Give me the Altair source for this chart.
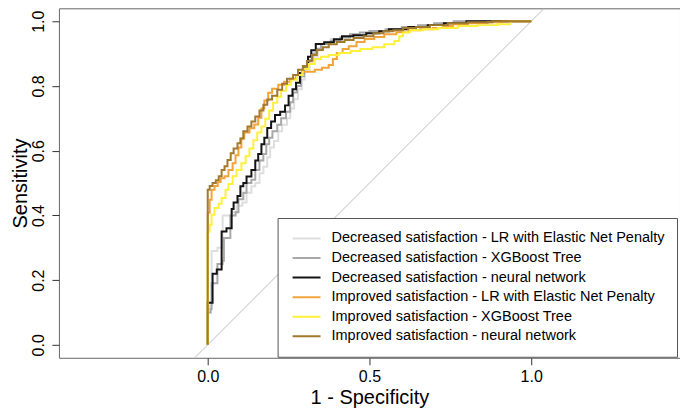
import altair as alt
import pandas as pd

series_names = [
    "Decreased satisfaction - LR with Elastic Net Penalty",
    "Decreased satisfaction - XGBoost Tree",
    "Decreased satisfaction - neural network",
    "Improved satisfaction - LR with Elastic Net Penalty",
    "Improved satisfaction - XGBoost Tree",
    "Improved satisfaction - neural network",
]
series_colors = ["#DEDEDE", "#A8A8A8", "#141414", "#F2A33A", "#FFF03C", "#A27A2E"]

# Decreased satisfaction - LR with Elastic Net Penalty
dec_lr_fpr = [0, 0, .006, .012, .03, .046, .074, .089, .107, .12,
              .135, .147, .16, .172, .184, .193, .205, .218, .23, .245,
              .255, .267, .279, .291, .30, .315, .328, .34, .355, .38,
              .41, .44, .48, .52, .56, .61, .66, .71, .77, 1]
dec_lr_tpr = [0, .11, .12, .29, .30, .40, .41, .43, .44, .47,
              .49, .50, .53, .55, .58, .61, .63, .66, .68, .70,
              .73, .76, .79, .82, .85, .87, .89, .91, .93, .945,
              .95, .955, .962, .97, .976, .982, .988, .994, 1, 1]

# Decreased satisfaction - XGBoost Tree
dec_xgb_fpr = [0, 0, .009, .012, .03, .046, .05, .07, .086, .095,
               .11, .12, .135, .147, .16, .172, .181, .19, .2, .215,
               .227, .242, .255, .264, .276, .288, .298, .313, .325, .337,
               .35, .38, .41, .44, .47, .5, .55, .6, .65, .7,
               .76, 1]
dec_xgb_tpr = [0, .10, .11, .19, .25, .26, .33, .40, .41, .45,
               .47, .50, .51, .54, .57, .59, .62, .64, .66, .68,
               .70, .72, .75, .78, .80, .83, .86, .88, .90, .915,
               .93, .94, .95, .96, .965, .97, .975, .982, .988, .994,
               1, 1]

# Decreased satisfaction - neural network
dec_nn_fpr = [0, 0, .015, .028, .043, .058, .074, .08, .092, .101,
              .11, .12, .135, .147, .156, .166, .175, .184, .196, .208,
              .224, .239, .25, .262, .273, .285, .295, .31, .32, .334,
              .36, .39, .415, .45, .49, .53, .56, .62, .68, .73,
              .8, 1]
dec_nn_tpr = [0, .13, .22, .233, .35, .36, .42, .44, .46, .49,
              .50, .52, .54, .57, .59, .62, .64, .67, .69, .71,
              .72, .74, .77, .79, .81, .84, .86, .89, .91, .93,
              .935, .944, .954, .957, .963, .969, .975, .982, .988, .994,
              1, 1]

# Improved satisfaction - LR with Elastic Net Penalty
imp_lr_fpr = [0, 0, .006, .012, .021, .031, .04, .052, .064, .077,
              .086, .095, .104, .113, .129, .144, .156, .166, .175, .187,
              .199, .218, .236, .255, .273, .291, .313, .331, .353, .374,
              .387, .399, .417, .436, .46, .485, .515, .546, .583, .62,
              .656, .696, .727, .758, .804, .865, .911, 1]
imp_lr_tpr = [0, .408, .448, .479, .491, .503, .515, .521, .54, .561,
              .586, .61, .638, .656, .669, .681, .702, .73, .755, .779,
              .791, .804, .813, .822, .834, .844, .844, .85, .856, .865,
              .883, .902, .914, .923, .936, .945, .951, .96, .966, .972,
              .975, .979, .985, .991, .994, .997, 1, 1]

# Improved satisfaction - XGBoost Tree
imp_xgb_fpr = [0, 0, .006, .012, .021, .034, .043, .055, .064, .077,
               .089, .104, .117, .129, .141, .153, .166, .178, .19, .202,
               .215, .227, .242, .258, .276, .294, .313, .331, .35, .374,
               .405, .442, .472, .509, .546, .577, .592, .604, .626, .666,
               .712, .773, .834, .896, .936, 1]
imp_xgb_tpr = [0, .35, .371, .402, .423, .436, .454, .479, .497, .521,
               .54, .561, .583, .607, .632, .656, .675, .699, .724, .748,
               .767, .785, .804, .819, .834, .853, .868, .883, .89, .896,
               .902, .908, .914, .92, .929, .939, .954, .966, .972, .975,
               .979, .985, .988, .991, 1, 1]

# Improved satisfaction - neural network
imp_nn_fpr = [0, 0, .006, .015, .025, .034, .043, .052, .061, .071,
              .08, .092, .101, .11, .123, .135, .147, .16, .172, .184,
              .199, .215, .23, .245, .264, .279, .294, .307, .322, .337,
              .356, .374, .399, .423, .451, .482, .512, .543, .574, .604,
              .644, .687, .742, .804, .88, 1]
imp_nn_tpr = [0, .479, .491, .5, .509, .521, .54, .552, .571, .592,
              .607, .623, .638, .66, .675, .69, .706, .724, .742, .758,
              .77, .788, .807, .822, .834, .85, .862, .877, .896, .911,
              .92, .929, .936, .942, .948, .954, .963, .969, .972, .979,
              .982, .988, .994, .997, 1, 1]

# chance diagonal (sensitivity = 1 - specificity)
diag_x = [-0.04, 1.04]
diag_y = [-0.04, 1.04]

x_ticks = [0, 0.5, 1.0]
y_ticks = [0, 0.2, 0.4, 0.6, 0.8, 1.0]

all_fpr = [dec_lr_fpr, dec_xgb_fpr, dec_nn_fpr, imp_lr_fpr, imp_xgb_fpr, imp_nn_fpr]
all_tpr = [dec_lr_tpr, dec_xgb_tpr, dec_nn_tpr, imp_lr_tpr, imp_xgb_tpr, imp_nn_tpr]

FONT = "Liberation Sans"

x_scale = alt.Scale(domain=[-0.46, 1.46], nice=False, zero=False)
y_scale = alt.Scale(domain=[-0.04, 1.04], nice=False, zero=False)
color_scale = alt.Scale(domain=series_names, range=series_colors)

x_axis = alt.Axis(values=x_ticks, format=".1f", title="1 - Specificity",
                  labelFont=FONT, labelFontSize=16, labelColor="black",
                  titleFont=FONT, titleFontSize=20, titleFontWeight="normal", titleColor="black",
                  tickSize=7, tickColor="#333", domain=False, grid=False,
                  labelPadding=4, titlePadding=3)
y_axis = alt.Axis(values=y_ticks, format=".1f", title="Sensitivity",
                  labelFont=FONT, labelFontSize=16, labelColor="black",
                  labelAngle=270, labelAlign="center", labelBaseline="bottom",
                  titleFont=FONT, titleFontSize=20, titleFontWeight="normal", titleColor="black",
                  tickSize=7, tickColor="#333", domain=False, grid=False,
                  labelPadding=5, titlePadding=0)

diag_df = pd.DataFrame({"x": diag_x, "y": diag_y})
diag = alt.Chart(diag_df).mark_line(color="#BDBDBD", strokeWidth=1, clip=True).encode(
    x=alt.X("x:Q", scale=x_scale, axis=x_axis),
    y=alt.Y("y:Q", scale=y_scale, axis=y_axis),
)

legend = alt.Legend(title=None, orient="none", legendX=219, legendY=210,
                    strokeColor="#555", fillColor="white", padding=12,
                    symbolType="stroke", symbolSize=784, symbolStrokeWidth=2,
                    labelFont=FONT, labelFontSize=14.5, labelColor="black",
                    labelLimit=0, labelOffset=10, symbolOffset=2,
                    clipHeight=17, rowPadding=2.6)

layers = [diag]
for name, f, t in zip(series_names, all_fpr, all_tpr):
    df = pd.DataFrame({"fpr": f, "tpr": t, "series": name})
    layers.append(
        alt.Chart(df).mark_line(strokeWidth=2, interpolate="step-after", clip=True).encode(
            x=alt.X("fpr:Q", scale=x_scale, axis=x_axis),
            y=alt.Y("tpr:Q", scale=y_scale, axis=y_axis),
            color=alt.Color("series:N", scale=color_scale, legend=legend),
        )
    )

chart = alt.layer(*layers).properties(
    width=622, height=350,
    autosize="none",
    padding={"left": 51, "top": 0, "right": 0, "bottom": 52},
    background="white",
).configure_view(stroke="#666", strokeWidth=1)

chart.save("out.html", embed_options={"renderer": "svg", "actions": False})
